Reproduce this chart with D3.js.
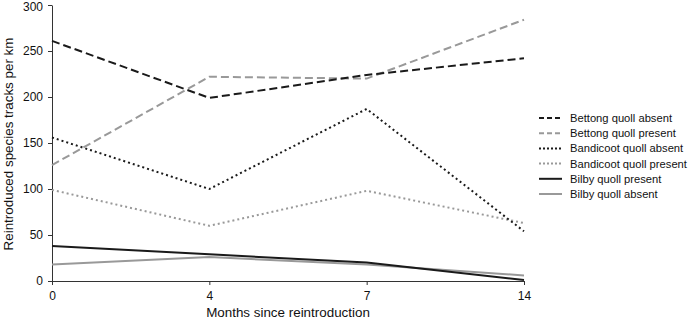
<!DOCTYPE html>
<html lang="en">
<head>
    <meta charset="UTF-8">
    <title>Reintroduced species tracks</title>
    <script src="https://d3js.org/d3.v7.min.js"></script>
    <style type="text/css">
        body { margin: 0; background: #fff; }
        text { font-family: "Liberation Sans", Arial, sans-serif; }
    </style>
</head>
<body>
<div id="graph"></div>
<script>
    // data
    var months = ["0", "4", "7", "14"];
    var yTicks = [0, 50, 100, 150, 200, 250, 300];

    var bettongAbsent = [261, 199, 224, 242];
    var bettongPresent = [126, 222, 220, 284];
    var bandicootAbsent = [156, 100, 187, 54];
    var bandicootPresent = [99, 60, 98, 63];
    var bilbyPresent = [38, 29, 20, 1];
    var bilbyAbsent = [18, 26, 18, 6];

    var seriesNames = ["Bettong quoll absent", "Bettong quoll present", "Bandicoot quoll absent",
        "Bandicoot quoll present", "Bilby quoll present", "Bilby quoll absent"];
    var seriesValues = [bettongAbsent, bettongPresent, bandicootAbsent, bandicootPresent, bilbyPresent, bilbyAbsent];

    // styles for each line
    var colors = ["#1a1a1a", "#999999", "#1a1a1a", "#999999", "#1a1a1a", "#999999"];
    var dashes = ["8,4", "8,4", "2,3", "2,3", null, null];

    var width = 692, height = 321;
    var svg = d3.select("#graph")
        .append("svg")
        .attr("width", width)
        .attr("height", height);

    var xscale = d3.scalePoint()
        .domain(months)
        .range([52, 524]);

    var yscale = d3.scaleLinear()
        .domain([0, 300])
        .range([281, 5]);

    var x_axis = d3.axisBottom(xscale).tickSize(4).tickSizeOuter(0).tickPadding(5);
    var y_axis = d3.axisLeft(yscale).tickValues(yTicks).tickSize(4).tickSizeOuter(0).tickPadding(5);

    var gx = svg.append("g")
        .attr("transform", "translate(0,281)")
        .call(x_axis);
    var gy = svg.append("g")
        .attr("transform", "translate(52,0)")
        .call(y_axis);

    [gx, gy].forEach(function (g) {
        g.selectAll("path, line").attr("stroke", "#333");
        g.selectAll("text").attr("font-size", 12).attr("fill", "#111")
            .attr("font-family", "'Liberation Sans', Arial, sans-serif");
    });
    gx.selectAll("text").attr("dy", "0.85em");
    // keep the top label inside the picture
    gy.selectAll("text").filter(function (d) { return d === 300; }).attr("dy", "0.45em");

    svg.append("text")
        .attr("x", 288)
        .attr("y", 317)
        .attr("text-anchor", "middle")
        .attr("font-size", 13.4)
        .attr("fill", "#111")
        .text("Months since reintroduction");

    svg.append("text")
        .attr("transform", "translate(13,144) rotate(-90)")
        .attr("text-anchor", "middle")
        .attr("font-size", 13.4)
        .attr("fill", "#111")
        .text("Reintroduced species tracks per km");

    var line = d3.line()
        .x(function (d, i) { return xscale(months[i]); })
        .y(function (d) { return yscale(d); });

    // draw lines (bilby ones first so black sits on top)
    var order = [5, 4, 3, 2, 1, 0];
    order.forEach(function (k) {
        svg.append("path")
            .datum(seriesValues[k])
            .attr("d", line)
            .attr("fill", "none")
            .attr("stroke", colors[k])
            .attr("stroke-width", 2)
            .attr("stroke-dasharray", dashes[k]);
    });

    // legend
    var legend = svg.selectAll(".legend")
        .data(seriesNames)
        .enter().append("g")
        .attr("class", "legend")
        .attr("transform", function (d, i) { return "translate(539," + (118 + i * 15.2) + ")"; });

    legend.append("line")
        .attr("x1", 0)
        .attr("x2", 23)
        .attr("stroke", function (d, i) { return colors[i]; })
        .attr("stroke-width", 2)
        .attr("stroke-dasharray", function (d, i) { return dashes[i] ? (i < 2 ? "5,3" : "2,2") : null; });

    legend.append("text")
        .attr("x", 31)
        .attr("dy", "0.36em")
        .attr("font-size", 11.2)
        .attr("fill", "#111")
        .text(function (d) { return d; });
</script>
</body>
</html>
